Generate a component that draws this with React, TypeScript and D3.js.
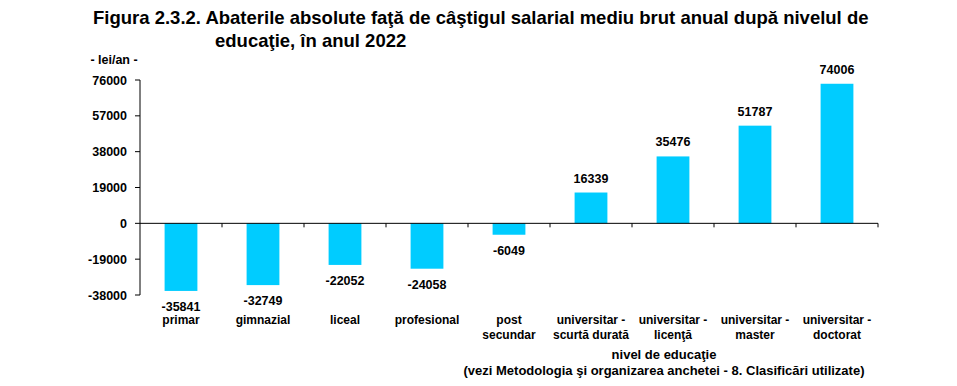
import React from "react";
import { scaleLinear, scaleBand } from "d3";

// categories, values and tick labels
const categories = [
  ["primar"],
  ["gimnazial"],
  ["liceal"],
  ["profesional"],
  ["post", "secundar"],
  ["universitar -", "scurtă durată"],
  ["universitar -", "licenţă"],
  ["universitar -", "master"],
  ["universitar -", "doctorat"],
];
const values = [-35841, -32749, -22052, -24058, -6049, 16339, 35476, 51787, 74006];
const yTicks = [-38000, -19000, 0, 19000, 38000, 57000, 76000];

const titleLines = [
  "Figura 2.3.2. Abaterile absolute faţă de câştigul salarial mediu brut anual după nivelul de",
  "educaţie, în anul 2022",
];
const xTitle = ["nivel de educaţie", "(vezi Metodologia şi organizarea anchetei - 8. Clasificări utilizate)"];

export default function App() {
  const width = 957;
  const height = 386;
  const left = 140;
  const right = 878;

  const keys = categories.map((c) => c.join(" "));
  const x = scaleBand<string>().domain(keys).range([left, right]).paddingInner(0.6).paddingOuter(0.3);
  const y = scaleLinear().domain([-38000, 76000]).range([295, 80]);
  const y0 = y(0);
  const step = x.step();

  const font = "'Liberation Sans', Arial, sans-serif";

  return (
    <svg
      width={width}
      height={height}
      style={{ position: "absolute", left: 0, top: 0, background: "#fff" }}
      fontFamily={font}
      fontWeight="bold"
    >
      {/* title */}
      <text x={93} y={24} fontSize={18.5} fill="#000">
        {titleLines[0]}
      </text>
      <text x={215} y={47} fontSize={18.5} fill="#000">
        {titleLines[1]}
      </text>

      <text x={114} y={64} fontSize={12.5} textAnchor="middle">
        - lei/an -
      </text>

      {/* y axis */}
      <line x1={left} x2={left} y1={y(76000)} y2={y(-38000)} stroke="#000" />
      {yTicks.map((t) => (
        <g key={t}>
          <line x1={left - 5} x2={left} y1={y(t)} y2={y(t)} stroke="#000" />
          <text x={127} y={y(t) + 4.5} fontSize={12.5} textAnchor="end">
            {t}
          </text>
        </g>
      ))}

      {/* bars */}
      {values.map((v, i) => {
        const k = keys[i];
        const bx = x(k)!;
        const top = v >= 0 ? y(v) : y0;
        const h = Math.abs(y(v) - y0);
        const cx = bx + x.bandwidth() / 2;
        return (
          <g key={k}>
            <rect x={bx} y={top} width={x.bandwidth()} height={h} fill="#00CCFF" />
            <text
              x={cx}
              y={v >= 0 ? y(v) - 10 : y(v) + 20}
              fontSize={12.5}
              textAnchor="middle"
            >
              {v}
            </text>
          </g>
        );
      })}

      {/* zero line and category ticks */}
      <line x1={left} x2={right} y1={y0} y2={y0} stroke="#000" />
      {keys.map((k, i) => (
        <line
          key={k}
          x1={left + step * (i + 1)}
          x2={left + step * (i + 1)}
          y1={y0}
          y2={y0 + 4}
          stroke="#000"
        />
      ))}

      {/* category labels */}
      {categories.map((c, i) => (
        <text key={keys[i]} x={x(keys[i])! + x.bandwidth() / 2} fontSize={12} textAnchor="middle">
          {c.map((line, j) => (
            <tspan key={j} x={x(keys[i])! + x.bandwidth() / 2} y={324 + j * 14.5}>
              {line}
            </tspan>
          ))}
        </text>
      ))}

      {/* x axis title */}
      <text x={664} y={359} fontSize={13} textAnchor="middle">
        {xTitle[0]}
      </text>
      <text x={664} y={375} fontSize={13} textAnchor="middle">
        {xTitle[1]}
      </text>
    </svg>
  );
}
